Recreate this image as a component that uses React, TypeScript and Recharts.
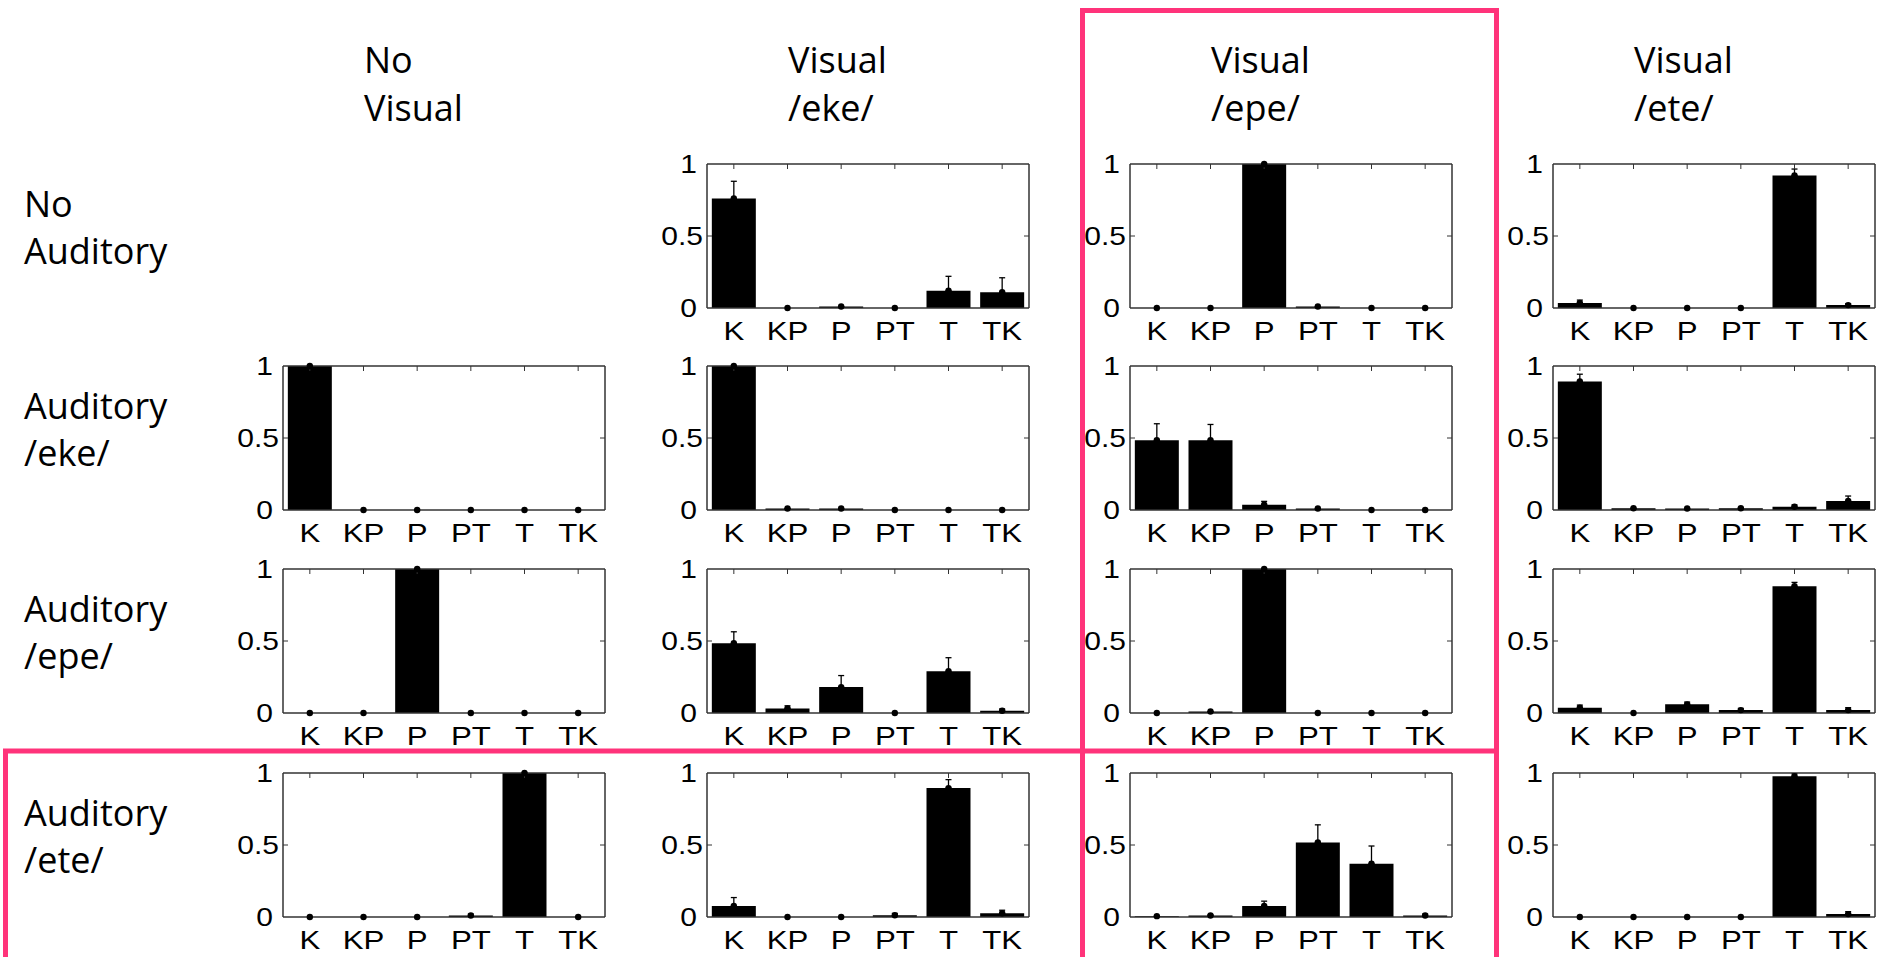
import React from 'react';
import { ComposedChart, Bar, Line, XAxis, YAxis, ErrorBar } from 'recharts';

// ---------- data ----------
const categories = ['K', 'KP', 'P', 'PT', 'T', 'TK'];
const yTicks = [0, 0.5, 1];
const columnTitles = [['No', 'Visual'], ['Visual', '/eke/'], ['Visual', '/epe/'], ['Visual', '/ete/']];
const rowTitles = [['No', 'Auditory'], ['Auditory', '/eke/'], ['Auditory', '/epe/'], ['Auditory', '/ete/']];

// Row: No Auditory
const noAudVisEke = [0.76, 0, 0.01, 0, 0.12, 0.11];
const noAudVisEkeErr = [0.12, 0, 0, 0, 0.1, 0.1];
const noAudVisEpe = [0, 0, 1, 0.01, 0, 0];
const noAudVisEpeErr = [0, 0, 0, 0, 0, 0];
const noAudVisEte = [0.035, 0, 0, 0, 0.92, 0.02];
const noAudVisEteErr = [0.02, 0, 0, 0, 0.045, 0.01];

// Row: Auditory /eke/
const audEkeNoVis = [1, 0, 0, 0, 0, 0];
const audEkeNoVisErr = [0, 0, 0, 0, 0, 0];
const audEkeVisEke = [1, 0.01, 0.01, 0, 0, 0];
const audEkeVisEkeErr = [0, 0, 0, 0, 0, 0];
const audEkeVisEpe = [0.484, 0.484, 0.037, 0.01, 0, 0];
const audEkeVisEpeErr = [0.115, 0.11, 0.023, 0, 0, 0];
const audEkeVisEte = [0.893, 0.012, 0.01, 0.012, 0.023, 0.062];
const audEkeVisEteErr = [0.05, 0, 0, 0.005, 0.012, 0.035];

// Row: Auditory /epe/
const audEpeNoVis = [0, 0, 1, 0, 0, 0];
const audEpeNoVisErr = [0, 0, 0, 0, 0, 0];
const audEpeVisEke = [0.484, 0.032, 0.18, 0, 0.29, 0.016];
const audEpeVisEkeErr = [0.08, 0.018, 0.08, 0, 0.094, 0.012];
const audEpeVisEpe = [0, 0.01, 1, 0, 0, 0];
const audEpeVisEpeErr = [0, 0, 0, 0, 0, 0];
const audEpeVisEte = [0.037, 0, 0.06, 0.02, 0.88, 0.02];
const audEpeVisEteErr = [0.018, 0, 0.016, 0.012, 0.027, 0.017];

// Row: Auditory /ete/
const audEteNoVis = [0, 0, 0, 0.01, 1, 0];
const audEteNoVisErr = [0, 0, 0, 0.01, 0, 0];
const audEteVisEke = [0.077, 0, 0, 0.012, 0.895, 0.026];
const audEteVisEkeErr = [0.058, 0, 0, 0.013, 0.059, 0.021];
const audEteVisEpe = [0.006, 0.01, 0.077, 0.518, 0.37, 0.01];
const audEteVisEpeErr = [0, 0.005, 0.033, 0.122, 0.123, 0.01];
const audEteVisEte = [0, 0, 0, 0, 0.977, 0.02];
const audEteVisEteErr = [0, 0, 0, 0, 0.018, 0.017];

type Panel = { values: number[]; errors: number[] } | null;

const panelGrid: Panel[][] = [
  [null,
    { values: noAudVisEke, errors: noAudVisEkeErr },
    { values: noAudVisEpe, errors: noAudVisEpeErr },
    { values: noAudVisEte, errors: noAudVisEteErr }],
  [{ values: audEkeNoVis, errors: audEkeNoVisErr },
    { values: audEkeVisEke, errors: audEkeVisEkeErr },
    { values: audEkeVisEpe, errors: audEkeVisEpeErr },
    { values: audEkeVisEte, errors: audEkeVisEteErr }],
  [{ values: audEpeNoVis, errors: audEpeNoVisErr },
    { values: audEpeVisEke, errors: audEpeVisEkeErr },
    { values: audEpeVisEpe, errors: audEpeVisEpeErr },
    { values: audEpeVisEte, errors: audEpeVisEteErr }],
  [{ values: audEteNoVis, errors: audEteNoVisErr },
    { values: audEteVisEke, errors: audEteVisEkeErr },
    { values: audEteVisEpe, errors: audEteVisEpeErr },
    { values: audEteVisEte, errors: audEteVisEteErr }],
];

// ---------- layout ----------
const PLOT_W = 322;
const PLOT_H = 144;
const colLeft = [283, 707, 1130, 1553];
const rowTop = [164, 366, 569, 773];
const ML = 60;
const MT = 20;
const MR = 10;
const XH = 50;
const AXIS = '#333';
const PINK = '#ff337a';
const TICK_FONT = '"Liberation Sans", Arial, Helvetica, sans-serif';
const TITLE_FONT = '"Open Sans", "Noto Sans", sans-serif';

const XTick = (p: any) => (
  <text
    x={0}
    y={0}
    transform={`translate(${p.x},${p.y + 32}) scale(1.2,1)`}
    textAnchor="middle"
    fontFamily={TICK_FONT}
    fontSize={26}
    fill="#000"
  >
    {p.payload.value}
  </text>
);

const YTick = (p: any) => {
  const v = p.payload.value;
  const off = v === 0.5 ? 4 : 10;
  return (
    <text
      x={0}
      y={0}
      transform={`translate(${p.x - off},${p.y}) scale(1.2,1)`}
      textAnchor="end"
      dominantBaseline="central"
      fontFamily={TICK_FONT}
      fontSize={25}
      fill="#000"
    >
      {v}
    </text>
  );
};

const NoTick = () => <g />;

function PanelChart({ panel }: { panel: { values: number[]; errors: number[] } }) {
  const data = categories.map((c, i) => ({
    cat: c,
    v: panel.values[i],
    err: [0, panel.errors[i]],
  }));
  return (
    <ComposedChart
      width={ML + PLOT_W + MR}
      height={MT + PLOT_H + XH}
      data={data}
      margin={{ top: MT, right: MR, bottom: 0, left: 0 }}
      barCategoryGap="9%"
    >
      <XAxis
        dataKey="cat"
        xAxisId="b"
        interval={0}
        height={XH}
        tickLine={false}
        tickSize={0}
        tickMargin={0}
        axisLine={{ stroke: AXIS, strokeWidth: 1.5 }}
        tick={XTick}
      />
      <XAxis
        dataKey="cat"
        xAxisId="t"
        orientation="top"
        mirror
        interval={0}
        height={2}
        tickSize={5}
        tickLine={{ stroke: AXIS, strokeWidth: 1 }}
        axisLine={{ stroke: AXIS, strokeWidth: 1.5 }}
        tick={NoTick}
      />
      <YAxis
        yAxisId="l"
        domain={[0, 1]}
        ticks={yTicks}
        width={ML}
        tickLine={false}
        tickSize={0}
        tickMargin={0}
        axisLine={{ stroke: AXIS, strokeWidth: 1.5 }}
        tick={YTick}
      />
      <YAxis
        yAxisId="l2"
        orientation="left"
        mirror
        domain={[0, 1]}
        ticks={[0.5]}
        allowDataOverflow
        width={2}
        tickSize={5}
        tickLine={{ stroke: AXIS, strokeWidth: 1 }}
        axisLine={false}
        tick={NoTick}
      />
      <YAxis
        yAxisId="r"
        orientation="right"
        mirror
        domain={[0, 1]}
        ticks={[0.5]}
        allowDataOverflow
        width={2}
        tickSize={5}
        tickLine={{ stroke: AXIS, strokeWidth: 1 }}
        axisLine={{ stroke: AXIS, strokeWidth: 1.5 }}
        tick={NoTick}
      />
      <Bar dataKey="v" xAxisId="b" yAxisId="l" fill="#000" isAnimationActive={false}>
        <ErrorBar dataKey="err" direction="y" width={3} stroke="#000" strokeWidth={1.3} isAnimationActive={false} />
      </Bar>
      <Line
        dataKey="v"
        xAxisId="b"
        yAxisId="l"
        stroke="none"
        dot={{ r: 3.2, fill: '#000', stroke: 'none' }}
        activeDot={false}
        isAnimationActive={false}
      />
      <Line
        dataKey="v"
        xAxisId="t"
        yAxisId="r"
        stroke="none"
        dot={false}
        activeDot={false}
        isAnimationActive={false}
      />
      <Line
        dataKey="v"
        xAxisId="t"
        yAxisId="l2"
        stroke="none"
        dot={false}
        activeDot={false}
        isAnimationActive={false}
      />
    </ComposedChart>
  );
}

export default function App() {
  return (
    <div
      style={{
        position: 'absolute',
        left: 0,
        top: 0,
        width: 1882,
        height: 957,
        background: '#fff',
        overflow: 'hidden',
      }}
    >
      <svg width={1882} height={957} style={{ position: 'absolute', left: 0, top: 0 }}>
        {columnTitles.map((lines, ci) => (
          <g key={'c' + ci}>
            {lines.map((t, li) => (
              <text
                key={li}
                x={colLeft[ci] + 81}
                y={73 + li * 48}
                fontFamily={TITLE_FONT}
                fontSize={36}
                fill="#000"
              >
                {t}
              </text>
            ))}
          </g>
        ))}
        {rowTitles.map((lines, ri) => (
          <g key={'r' + ri}>
            {lines.map((t, li) => (
              <text
                key={li}
                x={24}
                y={rowTop[ri] + PLOT_H / 2 - 19 + li * 47}
                fontFamily={TITLE_FONT}
                fontSize={36}
                fill="#000"
              >
                {t}
              </text>
            ))}
          </g>
        ))}
      </svg>
      {panelGrid.map((row, ri) =>
        row.map((panel, ci) =>
          panel ? (
            <div
              key={ri + '-' + ci}
              style={{
                position: 'absolute',
                left: colLeft[ci] - ML,
                top: rowTop[ri] - MT,
              }}
            >
              <PanelChart panel={panel} />
            </div>
          ) : null
        )
      )}
      <svg
        width={1882}
        height={957}
        style={{ position: 'absolute', left: 0, top: 0, pointerEvents: 'none' }}
      >
        <rect x={1082.5} y={10.5} width={414} height={1000} fill="none" stroke={PINK} strokeWidth={5} />
        <rect x={5.5} y={751} width={1491} height={300} fill="none" stroke={PINK} strokeWidth={5} />
      </svg>
    </div>
  );
}
